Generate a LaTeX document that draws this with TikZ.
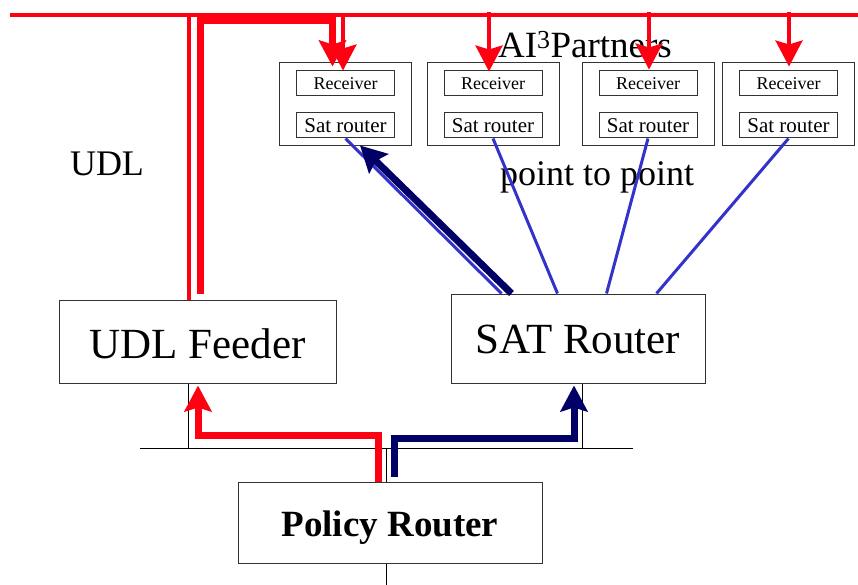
\documentclass[tikz,border=0pt]{standalone}
\usepackage{fontspec}
\setmainfont{Liberation Serif}
\usetikzlibrary{arrows.meta,calc}
\definecolor{myred}{RGB}{255,0,18}
\definecolor{myblue}{RGB}{51,51,204}
\definecolor{mynavy}{RGB}{0,0,102}
\begin{document}
\begin{tikzpicture}[x=1pt,y=-1pt,
  box/.style={draw=black!80,line width=1pt,inner sep=0pt},
  outerbox/.style={box,minimum width=132pt,minimum height=83pt},
  recvbox/.style={box,minimum width=98pt,minimum height=25pt,font=\fontsize{18}{20}\selectfont},
  satbox/.style={box,minimum width=98pt,minimum height=25pt,font=\fontsize{21}{23}\selectfont},
  bigbox/.style={box,font=\fontsize{43}{48}\selectfont,text depth=0pt},
  label/.style={inner sep=0pt,font=\fontsize{36}{40}\selectfont},
  thinblk/.style={draw=black,line width=1pt},
  redthin/.style={draw=myred,line width=3.5pt},
  redthick/.style={draw=myred,line width=7pt,line join=miter},
  navythick/.style={draw=mynavy,line width=7pt,line join=miter},
  blueln/.style={draw=myblue,line width=3pt},
  headtip/.style={-{Stealth[length=26pt,width=27pt,inset=4pt]}}
]
\useasboundingbox (0,0) rectangle (858,585);

% partner boxes
\foreach \i/\x in {1/345.5,2/493,3/648,4/788.5}{
  \node[outerbox] (p\i) at (\x,104.5) {};
  \node[recvbox] (r\i) at (\x,83.5) {Receiver};
  \node[satbox] (s\i) at (\x,125.5) {Sat router};
}

% main boxes
\node[bigbox,minimum width=277pt,minimum height=83pt,text height=33pt] (feeder) at (197.5,341.5) {UDL Feeder};
\node[bigbox,minimum width=254pt,minimum height=89pt,text height=29pt] (satr) at (578,338.5) {SAT Router};
\node[box,minimum width=304pt,minimum height=81pt,text height=27pt,text depth=0pt,font=\fontsize{37}{42}\selectfont\bfseries] (policy) at (390,522.5) {Policy Router};

% labels
\node[label,font=\fontsize{37}{40}\selectfont] (ai) at (585,44.5) {AI\textsuperscript{3}Partners};
\node[label] (udl) at (107,164) {UDL};
\node[label] (ptp) at (597,177) {point to point};

% bus
\coordinate (busL) at (140,448);
\coordinate (busR) at (633,448);
\coordinate (bottom) at (386,590);
\draw[thinblk] (busL) -- (busR);
\draw[thinblk] ($(feeder.south west)+(130,0)$) coordinate (fa) -- (fa |- busL);
\draw[thinblk] ($(satr.south west)+(132,0)$) coordinate (sa) -- (sa |- busL);
\draw[thinblk] ($(policy.north)+(-4,0)$) coordinate (pa) -- (pa |- busL);
\draw[thinblk] ($(policy.south)+(-4,0)$) -- (bottom);

% top red line
\coordinate (topL) at (10,15);
\coordinate (topR) at (858,15);
\draw[redthin] (topL) -- (topR);

% feeder to top line
\draw[redthin] ($(feeder.north)+(-8.5,0)$) coordinate (fb) -- (fb |- topL);
\draw[redthick,headtip] ($(feeder.north)+(2.5,-6)$) coordinate (fc) -- (fc |- 0,21) -| ($(r1.north)+(-13,-4)$);

% red arrows to receivers
\draw[redthin,headtip] ($(r1.north |- topL)+(-2.5,0)$) -- ($(r1.north)+(-2.5,0)$);
\draw[redthin,headtip] ($(r2.north |- topL)+(-4,-3)$) -- ($(r2.north)+(-4,1)$);
\draw[redthin,headtip] ($(r3.north |- topL)+(1,-3)$) -- ($(r3.north)+(1,-1)$);
\draw[redthin,headtip] ($(r4.north |- topL)+(0.5,-3)$) -- ($(r4.north)+(0.5,-4)$);

% blue point-to-point lines
\draw[blueln] (s1.south) -- ($(satr.north west)+(51,0)$);
\draw[blueln] (s2.south) -- ($(satr.north west)+(107,0)$);
\draw[blueln] (s3.south) -- ($(satr.north west)+(156,0)$);
\draw[blueln] (s4.south) -- ($(satr.north west)+(206,0)$);

% navy arrow to sat router 1
\draw[navythick,headtip] ($(satr.north west)+(61,0)$) -- ($(s1.south)+(14.5,7)$);

% policy router to feeder / sat router
\draw[redthick,headtip] ($(policy.north)+(-12,0)$) -- ++(0,-46) -| ($(feeder.south)+(0.5,2)$);
\draw[navythick,headtip] ($(policy.north)+(4,-5)$) -- ++(0,-38) -| ($(satr.south)+(-4,2)$);
\end{tikzpicture}
\end{document}
